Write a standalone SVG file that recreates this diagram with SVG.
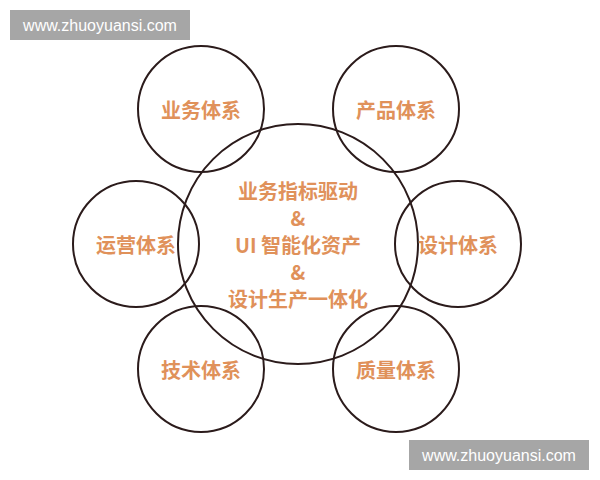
<svg xmlns="http://www.w3.org/2000/svg" width="600" height="480" viewBox="0 0 600 480">
<style>
.c{fill:none;stroke:#2b1b1b;stroke-width:2}
.t{fill:#e0915a;font-family:"Noto Sans CJK SC","Noto Sans",sans-serif;font-size:20px;font-weight:bold;text-anchor:middle;dominant-baseline:central}
.wm{fill:#a6a6a6}
.wt{fill:#ffffff;font-family:"Liberation Sans",Arial,sans-serif;font-size:16px;text-anchor:middle;dominant-baseline:central}
</style>
<rect width="600" height="480" fill="#ffffff"/>
<g id="center">
<circle class="c" cx="298" cy="244" r="120"/>
<text class="t" x="298" y="190">业务指标驱动</text>
<text class="t" x="298" y="217">&amp;</text>
<text class="t" x="298" y="244">UI 智能化资产</text>
<text class="t" x="298" y="271">&amp;</text>
<text class="t" x="298" y="298">设计生产一体化</text>
</g>
<g id="business"><circle class="c" cx="201" cy="109" r="63"/><text class="t" x="201" y="109">业务体系</text></g>
<g id="product"><circle class="c" cx="396" cy="109" r="63"/><text class="t" x="396" y="109">产品体系</text></g>
<g id="operation"><circle class="c" cx="136" cy="244" r="63"/><text class="t" x="136" y="244">运营体系</text></g>
<g id="design"><circle class="c" cx="458" cy="244" r="63"/><text class="t" x="458" y="244">设计体系</text></g>
<g id="tech"><circle class="c" cx="201" cy="369" r="63"/><text class="t" x="201" y="369">技术体系</text></g>
<g id="quality"><circle class="c" cx="396" cy="369" r="63"/><text class="t" x="396" y="369">质量体系</text></g>
<g id="connectors"></g>
<g id="watermarks">
<rect class="wm" x="10" y="10" width="180" height="30"/>
<text class="wt" x="100" y="25">www.zhuoyuansi.com</text>
<rect class="wm" x="409" y="440" width="180" height="30"/>
<text class="wt" x="499" y="455">www.zhuoyuansi.com</text>
</g>
</svg>
